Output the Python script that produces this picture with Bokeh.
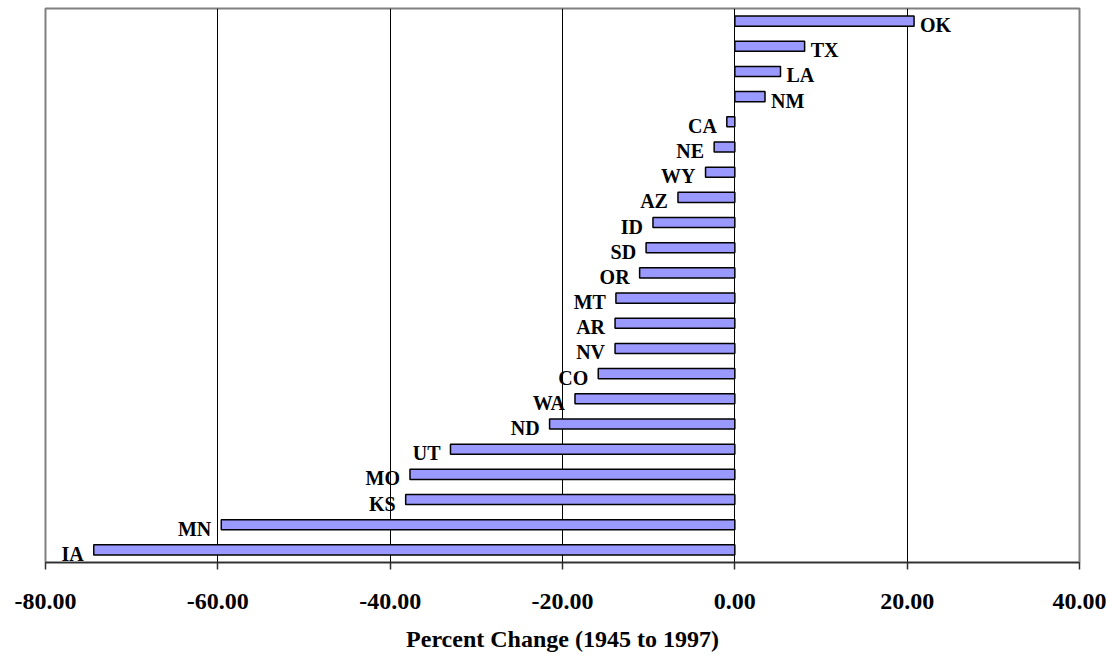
from bokeh.plotting import figure
from bokeh.models import ColumnDataSource, FixedTicker, NumeralTickFormatter, Range1d, FactorRange
from bokeh.core.properties import value
from bokeh.embed import file_html
from bokeh.resources import INLINE

# Percent change by state, listed bottom to top
states = ["IA", "MN", "KS", "MO", "UT", "ND", "WA", "CO", "NV", "AR", "MT",
          "OR", "SD", "ID", "AZ", "WY", "NE", "CA", "NM", "LA", "TX", "OK"]
pct_change = [-74.4, -59.6, -38.2, -37.7, -33.0, -21.5, -18.55, -15.85, -13.9, -13.9, -13.8,
              -11.05, -10.3, -9.5, -6.6, -3.4, -2.4, -0.93, 3.5, 5.3, 8.1, 20.8]
x_ticks = [-80, -60, -40, -20, 0, 20, 40]

FONT = "Liberation Serif"

src = ColumnDataSource(dict(
    state=states,
    val=pct_change,
    align=["left" if v >= 0 else "right" for v in pct_change],
    xoff=[6 if v >= 0 else -10 for v in pct_change],
))

p = figure(width=1109, height=656, output_backend="svg", toolbar_location=None,
           x_range=Range1d(-80, 40), y_range=FactorRange(*states),
           min_border_left=45, min_border_right=30, min_border_top=8, min_border_bottom=94)

p.outline_line_color = "#808080"
p.outline_line_width = 2
p.background_fill_color = "white"
p.border_fill_color = "white"

p.hbar(y="state", left=0, right="val", height=0.4, source=src,
       fill_color="#9999FF", line_color="black", line_width=1.5)

p.text(x="val", y="state", text="state", source=src,
       text_align={"field": "align"}, x_offset={"field": "xoff"}, y_offset=4,
       text_baseline="alphabetic", text_font=value(FONT), text_font_style="bold",
       text_font_size="20px", text_color="black")

p.yaxis.visible = False
p.ygrid.visible = False

p.xgrid.ticker = FixedTicker(ticks=[-60, -40, -20, 0, 20])
p.xgrid.grid_line_color = "black"
p.xgrid.grid_line_width = 1

xa = p.xaxis[0]
xa.ticker = FixedTicker(ticks=x_ticks)
xa.formatter = NumeralTickFormatter(format="0.00")
xa.axis_label = "Percent Change (1945 to 1997)"
xa.axis_label_text_font = FONT
xa.axis_label_text_font_style = "bold"
xa.axis_label_text_font_size = "24px"
xa.axis_label_text_color = "black"
xa.axis_label_standoff = 14
xa.major_label_text_font = FONT
xa.major_label_text_font_style = "bold"
xa.major_label_text_font_size = "24px"
xa.major_label_text_color = "black"
xa.major_label_standoff = 24
xa.major_tick_out = 7
xa.major_tick_in = 0
xa.minor_tick_out = 0
xa.minor_tick_in = 0
xa.axis_line_color = "#303030"
xa.axis_line_width = 1.5
xa.major_tick_line_color = "#303030"
xa.major_tick_line_width = 1.5

open("out.html", "w").write(file_html(p, INLINE))
